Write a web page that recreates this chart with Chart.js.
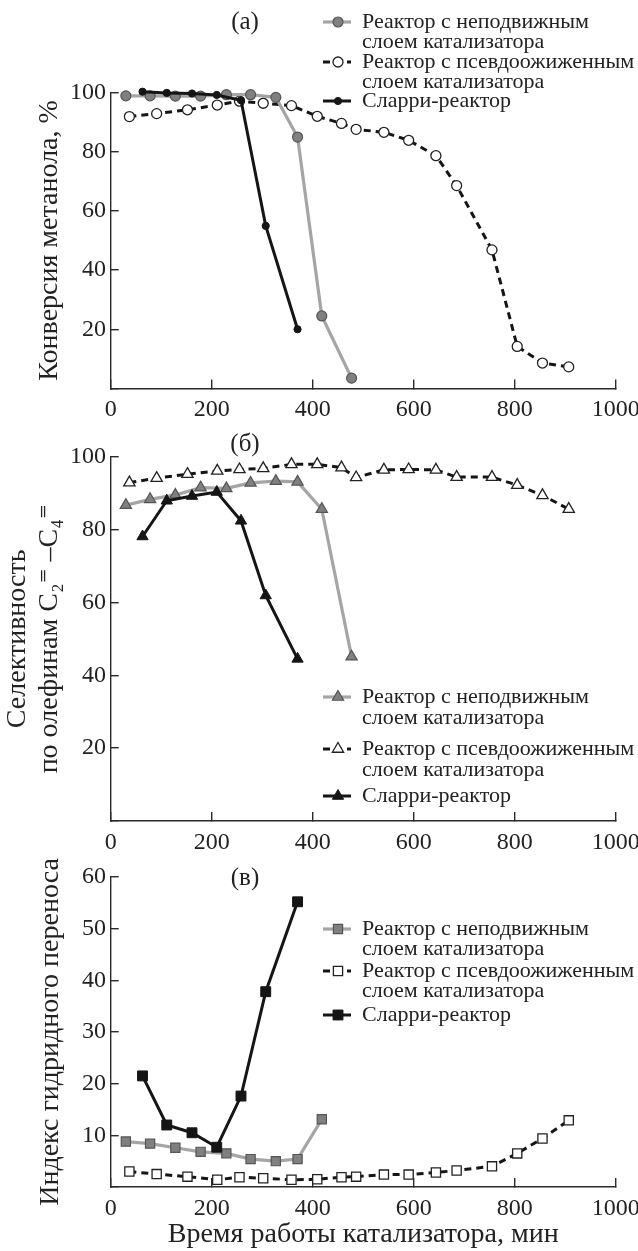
<!DOCTYPE html>
<html>
<head>
    <title>Реакторы МТО</title>
    <script src="https://cdn.jsdelivr.net/npm/chart.js"></script>
    <style>
        body { margin: 0; background: #fff; width: 638px; height: 1251px; position: relative; overflow: hidden; }
        canvas { position: absolute; left: 0; }
        #convChart { top: 0px; }
        #selChart { top: 420px; }
        #htiChart { top: 850px; }
    </style>
</head>
<body>
    <canvas id="convChart" width="638" height="440"></canvas>
    <canvas id="selChart" width="638" height="450"></canvas>
    <canvas id="htiChart" width="638" height="401"></canvas>

    <script>
        // время работы катализатора, мин
        const timeFixed = [30, 78, 128, 178, 229, 277, 327, 370, 418, 477];
        const timeFluid = [37, 91, 152, 211, 255, 302, 358, 409, 457, 486, 541, 590, 644, 685, 755, 805, 855, 907];
        const timeSlurry = [63, 111, 161, 210, 258, 307, 370];

        // (а) конверсия метанола, %
        const convFixed = [98.8, 98.8, 98.7, 98.7, 99.2, 99.2, 98.3, 84.9, 24.5, 3.5];
        const convFluid = [91.8, 92.8, 94.1, 95.7, 97.0, 96.3, 95.5, 91.9, 89.5, 87.5, 86.5, 83.8, 78.6, 68.5, 46.8, 14.2, 8.6, 7.3];
        const convSlurry = [100.2, 99.8, 99.6, 99.1, 97.3, 54.9, 20.0];

        // (б) селективность по олефинам C2=–C4=, %
        const selFixed = [86.7, 88.3, 89.5, 91.5, 91.3, 92.8, 93.3, 93.1, 85.6, 45.1];
        const selFluid = [92.9, 94.1, 95.2, 96.1, 96.5, 96.8, 97.9, 97.9, 97.0, 94.3, 96.4, 96.5, 96.4, 94.4, 94.4, 92.2, 89.4, 85.6];
        const selSlurry = [78.1, 87.9, 89.2, 90.3, 82.4, 61.9, 44.5];

        // (в) индекс гидридного переноса
        const htiFixed = [8.8, 8.4, 7.6, 6.8, 6.5, 5.4, 5.0, 5.4, 13.1];
        const htiFluid = [3.0, 2.5, 2.0, 1.4, 1.9, 1.7, 1.4, 1.5, 1.9, 2.0, 2.4, 2.4, 2.8, 3.2, 4.0, 6.5, 9.4, 12.9];
        const htiSlurry = [21.5, 12.0, 10.5, 7.7, 17.6, 37.8, 55.2];

        const xTicks = [0, 200, 400, 600, 800, 1000];
        const legendLines = [
            ['Реактор с неподвижным', 'слоем катализатора'],
            ['Реактор с псевдоожиженным', 'слоем катализатора'],
            ['Сларри-реактор']
        ];

        const SERIF = "'Liberation Serif', 'DejaVu Serif', serif";
        Chart.defaults.font.family = SERIF;
        Chart.defaults.color = '#222';

        const pts = (xs, ys) => ys.map((v, i) => ({x: xs[i], y: v}));

        function series(style, marker, size) {
            const common = {
                pointStyle: marker, pointRadius: size, pointHoverRadius: size,
                tension: 0, clip: false
            };
            if (style === 'fixed') return Object.assign(common, {
                borderColor: '#a5a5a5', borderWidth: 3.2,
                pointBackgroundColor: '#808080', pointBorderColor: '#555', pointBorderWidth: 1.2, order: 1
            });
            if (style === 'fluid') return Object.assign(common, {
                borderColor: '#151515', borderWidth: 3, borderDash: [7, 5],
                pointBackgroundColor: '#fff', pointBorderColor: '#222', pointBorderWidth: 1.3, order: 2
            });
            return Object.assign(common, {
                borderColor: '#151515', borderWidth: 3,
                pointBackgroundColor: '#151515', pointBorderColor: '#151515', pointBorderWidth: 1, order: 0
            });
        }

        const inlineLegend = {
            id: 'inlineLegend',
            afterDraw(chart, args, o) {
                const ctx = chart.ctx;
                ctx.save();
                chart.data.datasets.forEach((ds, i) => {
                    const y = o.rows[i];
                    ctx.save();
                    ctx.strokeStyle = ds.borderColor;
                    ctx.lineWidth = ds.borderWidth;
                    ctx.setLineDash(ds.borderDash || []);
                    ctx.beginPath();
                    ctx.moveTo(o.x, y);
                    ctx.lineTo(o.x + 28, y);
                    ctx.stroke();
                    ctx.setLineDash([]);
                    ctx.fillStyle = ds.pointBackgroundColor;
                    ctx.strokeStyle = ds.pointBorderColor;
                    ctx.lineWidth = ds.pointBorderWidth;
                    Chart.helpers.drawPoint(ctx, {
                        pointStyle: ds.pointStyle, radius: ds.pointRadius,
                        rotation: 0, borderWidth: ds.pointBorderWidth
                    }, o.x + 15, y);
                    ctx.restore();
                    ctx.font = '22px ' + SERIF;
                    ctx.fillStyle = '#222';
                    ctx.textBaseline = 'middle';
                    ctx.textAlign = 'left';
                    legendLines[i].forEach((t, k) => ctx.fillText(t, o.x + 39, y + k * o.gap));
                });
                // буква панели
                ctx.font = '25px ' + SERIF;
                ctx.fillStyle = '#222';
                ctx.textAlign = 'center';
                ctx.textBaseline = 'middle';
                ctx.fillText(o.panel, 245, o.panelY);
                ctx.restore();
            }
        };

        function makeChart(id, datasets, cfg) {
            const axisColor = '#2a2a2a';
            return new Chart(document.getElementById(id), {
                type: 'line',
                data: {datasets},
                options: {
                    responsive: false,
                    animation: false,
                    layout: {padding: {top: cfg.padTop, right: 22.3, left: 0, bottom: 0}},
                    plugins: {
                        legend: {display: false},
                        tooltip: {enabled: false},
                        inlineLegend: cfg.legend
                    },
                    scales: {
                        x: {
                            type: 'linear', min: 0, max: 1000,
                            afterBuildTicks: s => { s.ticks = xTicks.map(v => ({value: v})); },
                            afterFit: s => {
                                s.height = cfg.xHeight;
                                s.paddingLeft = 0; s.paddingRight = 0;
                            },
                            grid: {drawOnChartArea: false, tickLength: -9, color: axisColor, lineWidth: 1.4},
                            border: {color: axisColor, width: 1.4},
                            ticks: {
                                font: {size: 24}, padding: 16, maxRotation: 0, autoSkip: false,
                                callback: v => String(v)
                            },
                            title: cfg.xTitle ? {
                                display: true, text: cfg.xTitle, font: {size: 28},
                                padding: {top: 0, bottom: 0}
                            } : {display: false}
                        },
                        y: {
                            min: 0, max: cfg.yMax,
                            ticks: {
                                stepSize: cfg.yStep, font: {size: 24}, padding: 12.7,
                                callback: v => v === 0 ? '' : String(v)
                            },
                            afterFit: s => {
                                s.width = 110.7;
                                s.paddingTop = 0; s.paddingBottom = 0;
                            },
                            grid: {drawOnChartArea: false, tickLength: -8, color: axisColor, lineWidth: 1.4},
                            border: {color: axisColor, width: 1.4},
                            title: {
                                display: true, text: cfg.yTitle,
                                font: {size: 28, lineHeight: cfg.yTitleLH || 1.2},
                                padding: {top: cfg.yTitlePad, bottom: 0}
                            }
                        }
                    }
                },
                plugins: [inlineLegend]
            });
        }

        makeChart('convChart', [
            Object.assign({label: legendLines[0].join(' '), data: pts(timeFixed, convFixed)}, series('fixed', 'circle', 5)),
            Object.assign({label: legendLines[1].join(' '), data: pts(timeFluid, convFluid)}, series('fluid', 'circle', 5)),
            Object.assign({label: legendLines[2].join(' '), data: pts(timeSlurry, convSlurry)}, series('slurry', 'circle', 3.6))
        ], {
            padTop: 92.3, xHeight: 51.5, yMax: 100, yStep: 20,
            yTitle: 'Конверсия метанола, %', yTitlePad: 33,
            legend: {x: 323, rows: [22, 62, 101], gap: 20, panel: '(а)', panelY: 22}
        });

        makeChart('selChart', [
            Object.assign({label: legendLines[0].join(' '), data: pts(timeFixed, selFixed)}, series('fixed', 'triangle', 6.5)),
            Object.assign({label: legendLines[1].join(' '), data: pts(timeFluid, selFluid)}, series('fluid', 'triangle', 6.5)),
            Object.assign({label: legendLines[2].join(' '), data: pts(timeSlurry, selSlurry)}, series('slurry', 'triangle', 6.5))
        ], {
            padTop: 36.7, xHeight: 49, yMax: 100, yStep: 20,
            yTitle: ['Селективность', 'по олефинам C₂⁼ –C₄⁼'], yTitleLH: 1.143, yTitlePad: 2,
            legend: {x: 323, rows: [277, 329, 376], gap: 21, panel: '(б)', panelY: 24.7}
        });

        makeChart('htiChart', [
            Object.assign({label: legendLines[0].join(' '), data: pts(timeFixed, htiFixed)}, series('fixed', 'rect', 6.5)),
            Object.assign({label: legendLines[1].join(' '), data: pts(timeFluid, htiFluid)}, series('fluid', 'rect', 6.5)),
            Object.assign({label: legendLines[2].join(' '), data: pts(timeSlurry, htiSlurry)}, series('slurry', 'rect', 7))
        ], {
            padTop: 27, xHeight: 64, yMax: 60, yStep: 10,
            yTitle: 'Индекс гидридного переноса', yTitlePad: 34,
            xTitle: 'Время работы катализатора, мин',
            legend: {x: 323, rows: [79, 121, 165], gap: 20, panel: '(в)', panelY: 28}
        });
    </script>
</body>
</html>
